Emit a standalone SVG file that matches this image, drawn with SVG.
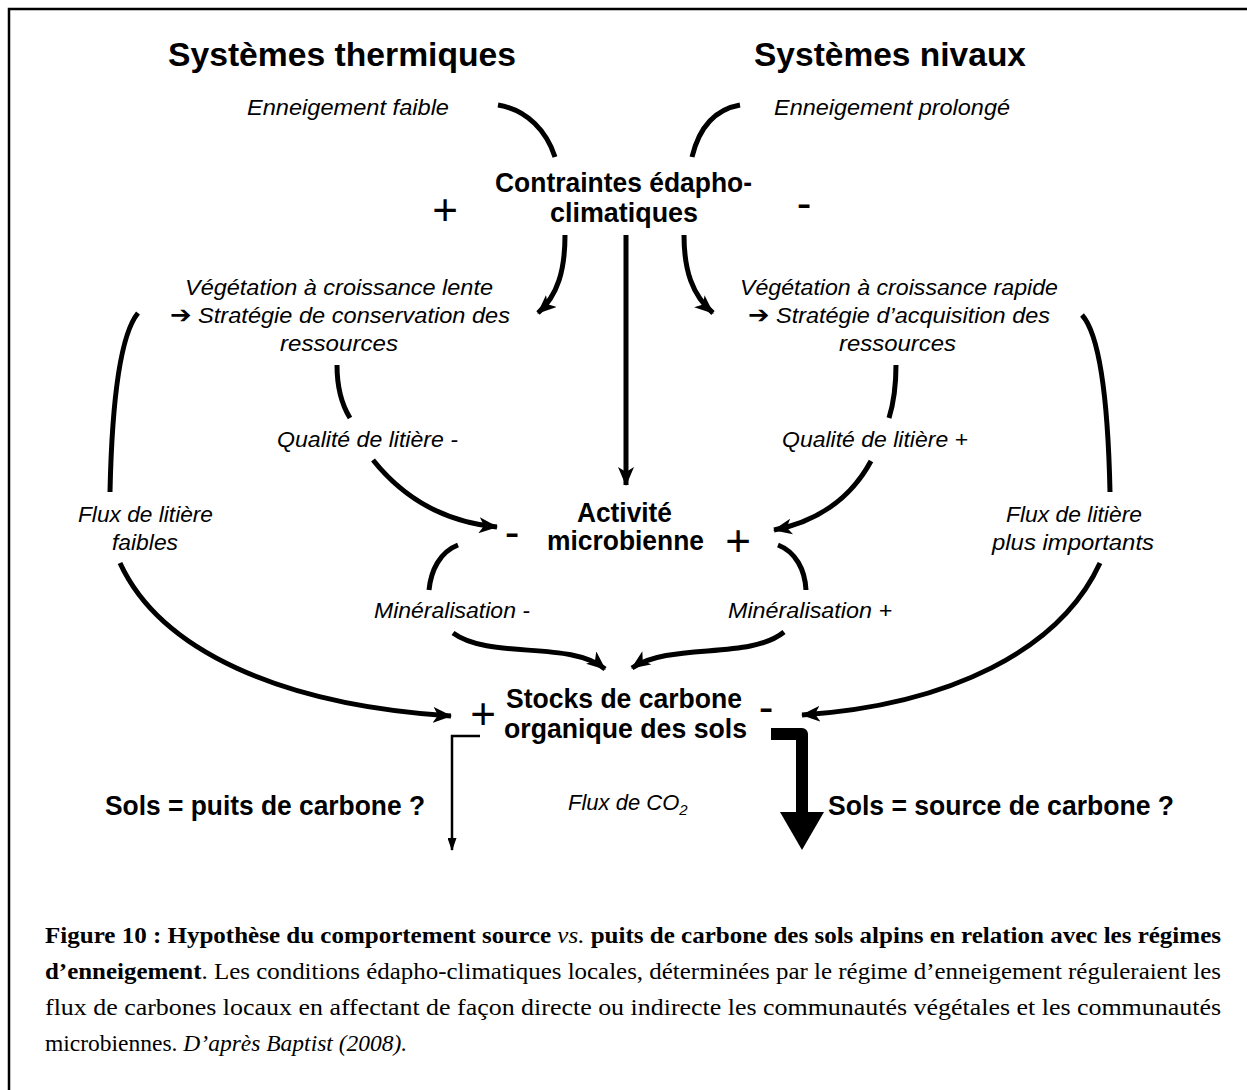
<svg xmlns="http://www.w3.org/2000/svg" width="1247" height="1090" viewBox="0 0 1247 1090">
<style>
.t{font-family:"Liberation Sans",Arial,sans-serif;fill:#000}
.ti{font-size:34px;font-weight:bold}
.b{font-size:27px;font-weight:bold}
.i{font-size:22px;font-style:italic}
.s{font-size:44px}
.c{font-family:"Liberation Serif","Times New Roman",serif;font-size:23.5px;fill:#000}
.ln{fill:none;stroke:#000;stroke-width:5}
.ar{font-family:"DejaVu Sans",sans-serif;font-style:normal;font-weight:bold;font-size:24px}
</style>
<defs>
<marker id="ah" markerUnits="userSpaceOnUse" markerWidth="19" markerHeight="16" viewBox="0 0 19 16" refX="18" refY="8" orient="auto">
<path d="M0,0 L19,8 L0,16 L5,8 z" fill="#000"/>
</marker>
<marker id="ahs" markerUnits="userSpaceOnUse" markerWidth="13" markerHeight="9" viewBox="0 0 13 9" refX="12" refY="4.5" orient="auto">
<path d="M0,0 L13,4.5 L0,9 z" fill="#000"/>
</marker>
</defs>
<rect x="9" y="9" width="1260" height="1100" fill="#fff" stroke="#000" stroke-width="2.5"/>

<g id="titres">
<text class="t ti" x="342" y="66" text-anchor="middle" textLength="348" lengthAdjust="spacingAndGlyphs">Systèmes thermiques</text>
<text class="t ti" x="890" y="66" text-anchor="middle" textLength="272" lengthAdjust="spacingAndGlyphs">Systèmes nivaux</text>
</g>
<g id="enneigement-faible"><text class="t i" x="348" y="115" text-anchor="middle" textLength="202" lengthAdjust="spacingAndGlyphs">Enneigement faible</text></g>
<g id="enneigement-prolonge"><text class="t i" x="892" y="115" text-anchor="middle" textLength="236" lengthAdjust="spacingAndGlyphs">Enneigement prolongé</text></g>
<g id="contraintes">
<text class="t b" x="623.5" y="192" text-anchor="middle" textLength="257" lengthAdjust="spacingAndGlyphs">Contraintes édapho-</text>
<text class="t b" x="624" y="222" text-anchor="middle" textLength="148" lengthAdjust="spacingAndGlyphs">climatiques</text>
<text class="t s" x="445" y="225" text-anchor="middle" font-size="46">+</text>
<text class="t s" x="804" y="218" text-anchor="middle" font-size="46">-</text>
</g>
<g id="vegetation-lente">
<text class="t i" x="339" y="295" text-anchor="middle" textLength="308" lengthAdjust="spacingAndGlyphs">Végétation à croissance lente</text>
<text class="t i" x="340" y="323" text-anchor="middle" textLength="340" lengthAdjust="spacingAndGlyphs"><tspan class="ar">➔</tspan> Stratégie de conservation des</text>
<text class="t i" x="339" y="351" text-anchor="middle" textLength="118" lengthAdjust="spacingAndGlyphs">ressources</text>
</g>
<g id="vegetation-rapide">
<text class="t i" x="899" y="295" text-anchor="middle" textLength="318" lengthAdjust="spacingAndGlyphs">Végétation à croissance rapide</text>
<text class="t i" x="899" y="323" text-anchor="middle" textLength="302" lengthAdjust="spacingAndGlyphs"><tspan class="ar">➔</tspan> Stratégie d’acquisition des</text>
<text class="t i" x="897.5" y="351" text-anchor="middle" textLength="117" lengthAdjust="spacingAndGlyphs">ressources</text>
</g>
<g id="activite">
<text class="t b" x="624.5" y="522" text-anchor="middle" textLength="95" lengthAdjust="spacingAndGlyphs">Activité</text>
<text class="t b" x="625.5" y="550" text-anchor="middle" textLength="157" lengthAdjust="spacingAndGlyphs">microbienne</text>
<text class="t s" x="512" y="547" text-anchor="middle">-</text>
<text class="t s" x="738" y="556" text-anchor="middle">+</text>
</g>
<g id="stocks">
<text class="t b" x="624" y="708" text-anchor="middle" textLength="236" lengthAdjust="spacingAndGlyphs">Stocks de carbone</text>
<text class="t b" x="625.5" y="738" text-anchor="middle" textLength="243" lengthAdjust="spacingAndGlyphs">organique des sols</text>
<text class="t s" x="483" y="729" text-anchor="middle">+</text>
<text class="t s" x="766" y="722" text-anchor="middle">-</text>
</g>
<g id="puits"><text class="t b" x="265" y="815" text-anchor="middle" textLength="320" lengthAdjust="spacingAndGlyphs">Sols = puits de carbone ?</text></g>
<g id="source"><text class="t b" x="1001" y="815" text-anchor="middle" textLength="346" lengthAdjust="spacingAndGlyphs">Sols = source de carbone ?</text></g>

<g id="connecteurs">
<path class="ln" d="M498,105 C528,110 547,132 555,157"/>
<path class="ln" d="M740,105 C712,110 698,132 692,157"/>
<path class="ln" d="M565,235 C565,270 558,295 538,313" marker-end="url(#ah)"/>
<path class="ln" d="M684,235 C684,270 692,295 713,313" marker-end="url(#ah)"/>
<path class="ln" d="M626,235 L626,485" marker-end="url(#ah)"/>
<path class="ln" d="M138,313 C120,335 112,400 110,492"/>
<path class="ln" d="M120,563 C160,650 280,705 451,716" marker-end="url(#ah)"/>
<path class="ln" d="M1082,315 C1100,335 1108,400 1110,492"/>
<path class="ln" d="M1100,563 C1060,650 950,705 802,715" marker-end="url(#ah)"/>
<path class="ln" d="M337,365 C337,390 342,405 350,418"/>
<path class="ln" d="M373,460 C405,500 445,522 497,527" marker-end="url(#ah)"/>
<path class="ln" d="M896,365 C896,390 893,405 889,418"/>
<path class="ln" d="M871,461 C850,500 815,522 774,530" marker-end="url(#ah)"/>
<path class="ln" d="M458,545 C440,552 431,570 429,590"/>
<path class="ln" d="M778,545 C796,552 805,570 806,590"/>
<path class="ln" d="M453,633 C490,660 570,640 605,669" marker-end="url(#ah)"/>
<path class="ln" d="M784,632 C750,660 670,642 632,668" marker-end="url(#ah)"/>
<path d="M480,736 L452,736 L452,850" fill="none" stroke="#000" stroke-width="2.5" marker-end="url(#ahs)"/>
<path d="M771,734 L802,734 L802,815" fill="none" stroke="#000" stroke-width="12" stroke-linejoin="round"/>
<path d="M780,812 L824,812 L802,850 z" fill="#000"/>
</g>

<g id="labels">
<text class="t i" x="145.5" y="522" text-anchor="middle" textLength="135" lengthAdjust="spacingAndGlyphs">Flux de litière</text>
<text class="t i" x="145" y="550" text-anchor="middle" textLength="66" lengthAdjust="spacingAndGlyphs">faibles</text>
<text class="t i" x="1074" y="522" text-anchor="middle" textLength="136" lengthAdjust="spacingAndGlyphs">Flux de litière</text>
<text class="t i" x="1073" y="550" text-anchor="middle" textLength="162" lengthAdjust="spacingAndGlyphs">plus importants</text>
<text class="t i" x="367.5" y="447" text-anchor="middle" textLength="181" lengthAdjust="spacingAndGlyphs">Qualité de litière -</text>
<text class="t i" x="875" y="447" text-anchor="middle" textLength="186" lengthAdjust="spacingAndGlyphs">Qualité de litière +</text>
<text class="t i" x="452" y="618" text-anchor="middle" textLength="156" lengthAdjust="spacingAndGlyphs">Minéralisation -</text>
<text class="t i" x="810" y="618" text-anchor="middle" textLength="164" lengthAdjust="spacingAndGlyphs">Minéralisation +</text>
<text class="t i" x="568" y="810">Flux de CO<tspan font-size="15" dy="5">2</tspan></text>
</g>

<g id="legende">
<text class="c" x="45" y="943" textLength="1176" lengthAdjust="spacingAndGlyphs"><tspan font-weight="bold">Figure 10 : Hypothèse du comportement source </tspan><tspan font-style="italic">vs.</tspan><tspan font-weight="bold"> puits de carbone des sols alpins en relation avec les régimes</tspan></text>
<text class="c" x="45" y="979" textLength="1176" lengthAdjust="spacingAndGlyphs"><tspan font-weight="bold">d’enneigement</tspan>. Les conditions édapho-climatiques locales, déterminées par le régime d’enneigement réguleraient les</text>
<text class="c" x="45" y="1015" textLength="1176" lengthAdjust="spacingAndGlyphs">flux de carbones locaux en affectant de façon directe ou indirecte les communautés végétales et les communautés</text>
<text class="c" x="45" y="1051">microbiennes. <tspan font-style="italic">D’après Baptist (2008).</tspan></text>
</g>
</svg>
